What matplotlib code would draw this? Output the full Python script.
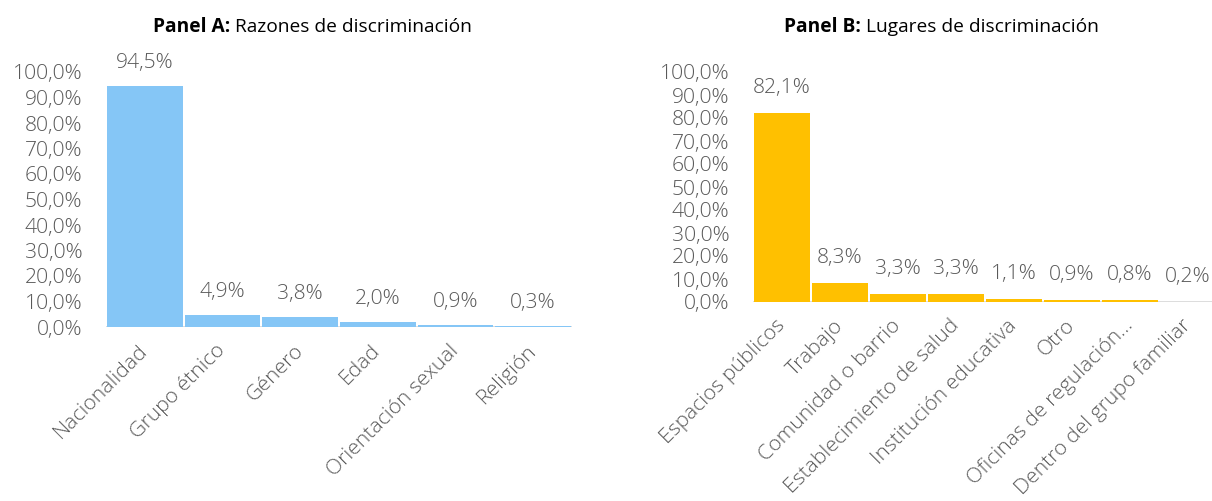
import matplotlib.pyplot as plt

plt.rcParams['font.family'] = ['Open Sans', 'DejaVu Sans']

razones = ['Nacionalidad', 'Grupo étnico', 'Género', 'Edad',
           'Orientación sexual', 'Religión']
razones_pct = [94.5, 4.9, 3.8, 2.0, 0.9, 0.3]

lugares = ['Espacios públicos', 'Trabajo', 'Comunidad o barrio',
           'Establecimiento de salud', 'Institución educativa', 'Otro',
           'Oficinas de regulación…', 'Dentro del grupo familiar']
lugares_pct = [82.1, 8.3, 3.3, 3.3, 1.1, 0.9, 0.8, 0.2]

y_ticks = list(range(0, 101, 10))

W, H = 1212, 501
fig = plt.figure(figsize=(W / 100, H / 100), dpi=100)

grey = '#595959'
FS = 15.2


def fmt(v):
    return f'{v:.1f}%'.replace('.', ',')


def panel(rect, cats, vals, color, bold, rest, title_x, label_off):
    left, right, bottom, top = rect
    ax = fig.add_axes([left / W, 1 - bottom / H, (right - left) / W,
                       (bottom - top) / H])
    x = list(range(len(cats)))
    ax.axhline(0, color='#D9D9D9', lw=2, zorder=1)
    ax.bar(x, vals, width=0.97, color=color, zorder=2)
    ax.set_xlim(-0.5, len(cats) - 0.5)
    ax.set_ylim(0, 100)
    ax.set_yticks(y_ticks)
    ax.set_yticklabels([fmt(t) for t in y_ticks], fontsize=FS, color=grey,
                       fontweight='light')
    ax.tick_params(axis='y', length=0, pad=17)
    ax.set_xticks(x)
    ax.set_xticklabels(cats, rotation=45, ha='right', va='center',
                       rotation_mode='anchor', fontsize=FS, color=grey,
                       fontweight='light')
    ax.tick_params(axis='x', length=0, pad=15)
    for s in ax.spines.values():
        s.set_visible(False)
    ax.patch.set_alpha(0)
    # data units per pixel, for the value label offset
    dpp = 100 / (bottom - top)
    for xi, v in zip(x, vals):
        ax.text(xi, v + label_off * dpp, fmt(v), ha='center', va='center',
                fontsize=FS, color=grey, fontweight='light', clip_on=False)
    fig.text(title_x / W, 1 - 27 / H, bold + ' ', ha='right', va='center',
             fontsize=13.8, fontweight='bold', color='black')
    fig.text(title_x / W, 1 - 27 / H, rest, ha='left', va='center',
             fontsize=13.8, color='black')
    return ax


panel((106, 572, 327, 72), razones, razones_pct, '#85C6F6',
      'Panel A:', 'Razones de discriminación', 235, 23)
panel((753, 1217, 302, 72), lugares, lugares_pct, '#FFC000',
      'Panel B:', 'Lugares de discriminación', 866, 25)

fig.savefig('out.png', dpi=100)
